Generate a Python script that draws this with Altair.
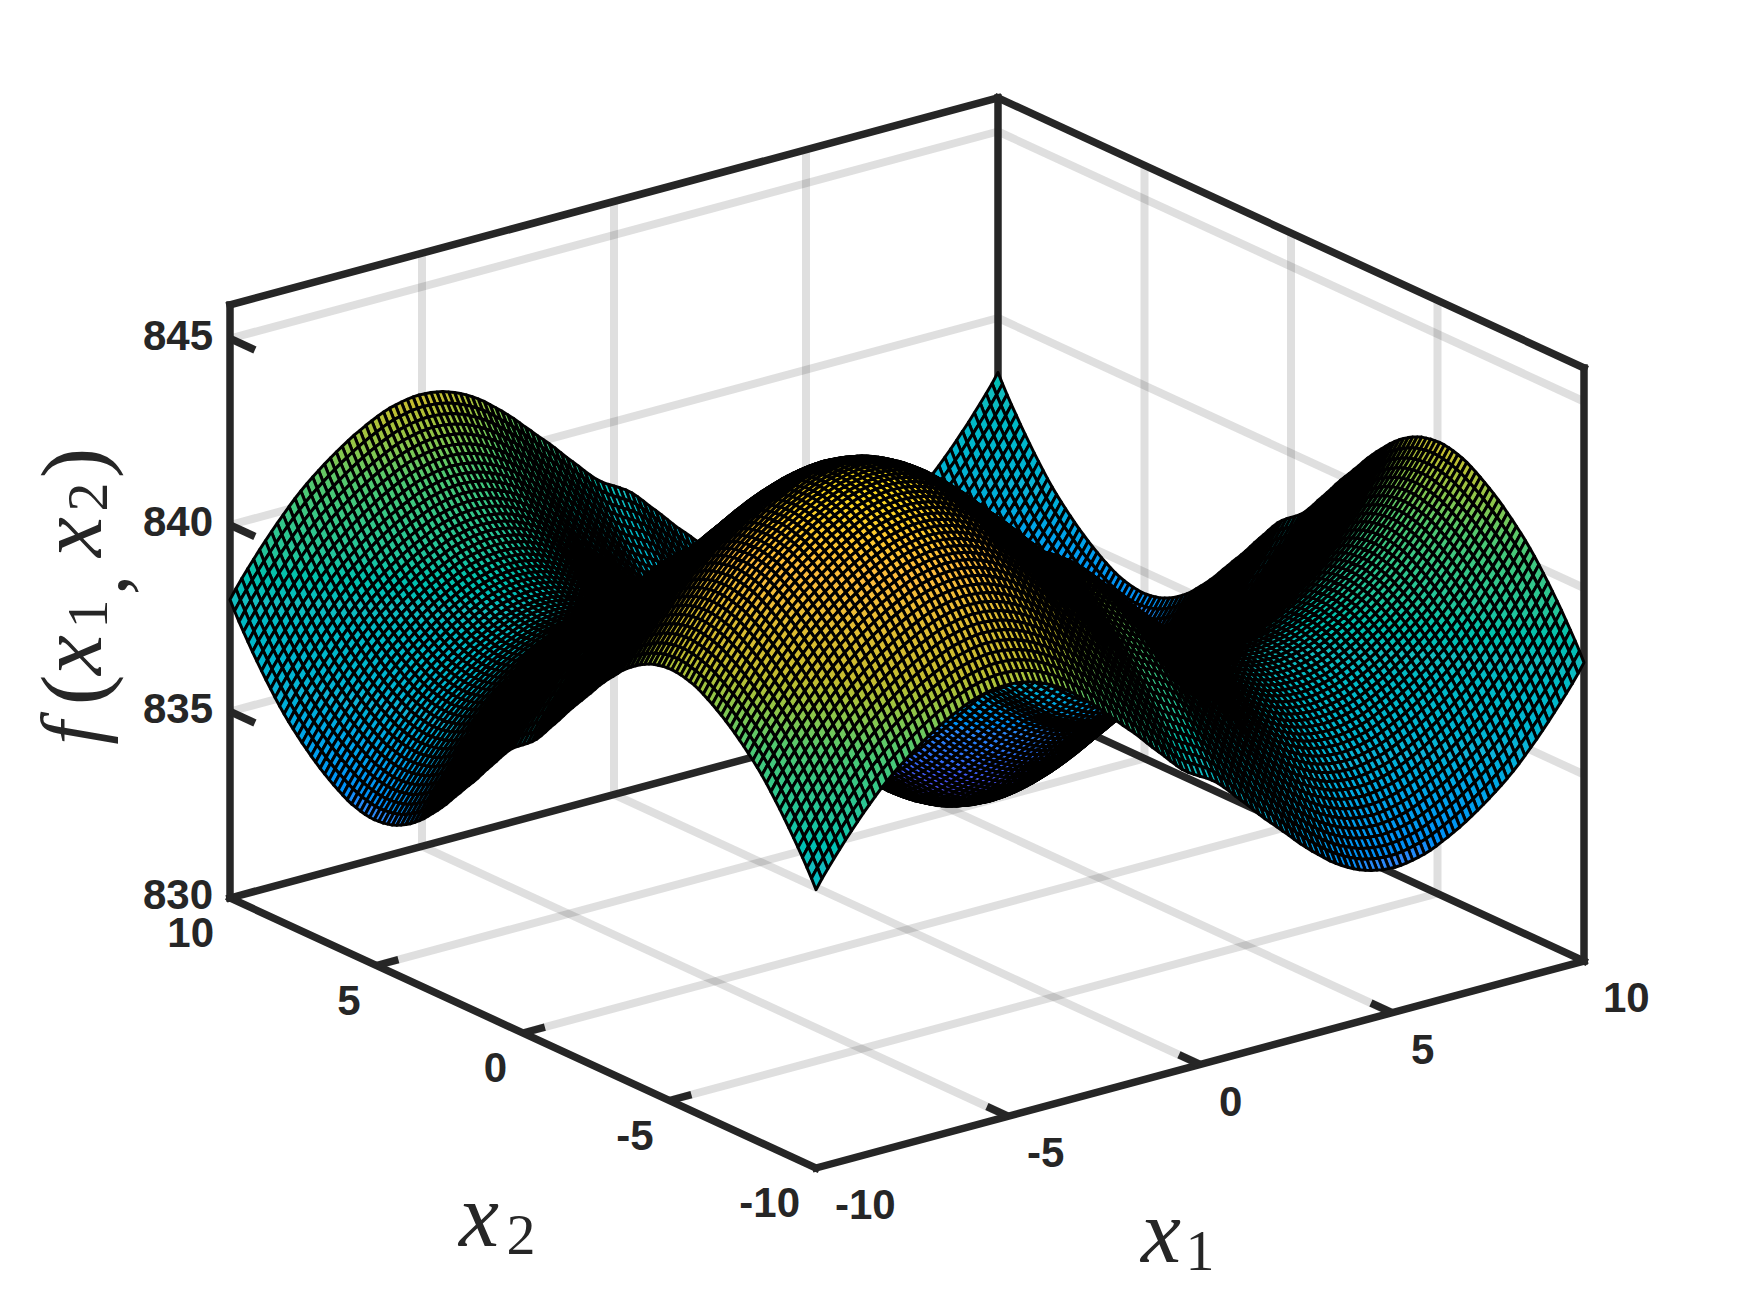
import altair as alt
import pandas as pd

# Height above the base level along one axis,
# for mesh lines from the centre (0) out to 10 on the falling side.
profile_half = [
 0.00,0.09,0.19,0.31,0.46,0.62,0.79,0.95,1.11,1.28,1.45,1.61,1.76,1.91,2.07,2.22,2.38,2.54,2.68,2.82,
 2.95,3.08,3.21,3.32,3.42,3.51,3.59,3.66,3.72,3.77,3.80,3.83,3.84,3.85,3.84,3.82,3.79,3.75,3.71,3.65,
 3.58,3.50,3.42,3.33,3.24,3.14,3.03,2.92,2.80,2.68,2.55,2.42,2.28,2.13,1.97,1.80,1.62,1.44,1.25,1.05,
 0.85,0.64,0.43,0.21,-0.02,-0.27]
base_z = 838.0

xy_ticks = [-10, -5, 0, 5, 10]
z_ticks = [830, 835, 840, 845]
z_top = 845.9

color_z = [830, 832, 834, 836, 838, 839, 840.5, 842, 844, 846]
color_hex = ["#3E26A8", "#4752F4", "#2D87F7", "#12B1D6", "#14BCBE", "#22C49C", "#50C870", "#C4BC30", "#FDBB3D", "#F5E40E"]

ylabel_parts = ["f", "(", "x", "1", ",", "x", "2", ")"]

W, H, M = 1734, 1297, 8
LINE = "#262626"

profile = profile_half[:0:-1] + [-p for p in profile_half]


def cam(x1, x2, z):
    u, v = (x1 + 10) / 20, (x2 + 10) / 20
    return 816 + 768 * u - 586 * v, 1168 - 207 * u - 270 * v - (z - 830) * 37.3


def seg(a, b):
    (x, y), (x_e, y_e) = cam(*a), cam(*b)
    return {"x": x, "y": y, "x_e": x_e, "y_e": y_e}


sx = alt.Scale(domain=[M, M + W], nice=False, zero=False)
sy = alt.Scale(domain=[M + H, M], nice=False, zero=False)
X = alt.X("x:Q", scale=sx, axis=None)
Y = alt.Y("y:Q", scale=sy, axis=None)
ENC = dict(x=X, y=Y, x2="x_e:Q", y2="y_e:Q")

# Grid lines on the floor and on the two back walls
inner = [t for t in xy_ticks if abs(t) < 10]
grid = []
for t in inner:
    grid += [seg((t, -10, 830), (t, 10, 830)), seg((-10, t, 830), (10, t, 830)),
             seg((t, 10, 830), (t, 10, z_top)), seg((10, t, 830), (10, t, z_top))]
for z in z_ticks[1:]:
    grid += [seg((-10, 10, z), (10, 10, z)), seg((10, -10, z), (10, 10, z))]
grid_layer = alt.Chart(pd.DataFrame(grid)).mark_rule(
    color=LINE, opacity=0.15, strokeWidth=8).encode(**ENC)

# Box edges
box = [
    seg((-10, 10, 830), (-10, -10, 830)), seg((-10, -10, 830), (10, -10, 830)),
    seg((-10, 10, 830), (10, 10, 830)), seg((10, 10, 830), (10, -10, 830)),
    seg((-10, 10, 830), (-10, 10, z_top)), seg((10, -10, 830), (10, -10, z_top)),
    seg((10, 10, 830), (10, 10, z_top)),
    seg((-10, 10, z_top), (10, 10, z_top)), seg((10, 10, z_top), (10, -10, z_top)),
]
box_layer = alt.Chart(pd.DataFrame(box)).mark_rule(
    color=LINE, strokeWidth=7.5, strokeCap="square").encode(**ENC)

# Tick marks
ticks = []
for t in inner:
    ticks.append(seg((t, -10, 830), (t, -10 + 0.72, 830)))
    ticks.append(seg((-10, t, 830), (-10 + 0.57, t, 830)))
for z in z_ticks[1:]:
    ticks.append(seg((-10, 10, z), (-10, 10 - 0.85, z)))
tick_layer = alt.Chart(pd.DataFrame(ticks)).mark_rule(
    color=LINE, strokeWidth=7.5).encode(**ENC)

# Surface, drawn back to front
n = len(profile) - 1
features = []


def node(i, j):
    x1 = -10 + 20 * i / n
    x2 = -10 + 20 * j / n
    return cam(x1, x2, base_z + profile[i] + profile[j])


for i in range(n - 1, -1, -1):
    for j in range(n - 1, -1, -1):
        ring = [node(i, j), node(i + 1, j), node(i + 1, j + 1), node(i, j + 1), node(i, j)]
        zm = base_z + (profile[i] + profile[i + 1] + profile[j] + profile[j + 1]) / 2
        features.append({
            "type": "Feature",
            "properties": {"z": round(zm, 2)},
            "geometry": {"type": "Polygon",
                         "coordinates": [[[round(a, 1), round(b, 1)] for a, b in ring]]},
        })

surface_layer = alt.Chart(
    alt.InlineData(values={"type": "FeatureCollection", "features": features},
                   format=alt.DataFormat(property="features", type="json"))
).mark_geoshape(stroke="black", strokeWidth=3.0, strokeJoin="round").encode(
    color=alt.Color("properties.z:Q",
                    scale=alt.Scale(domain=color_z, range=color_hex),
                    legend=None)
).project(type="identity", scale=1, translate=[-M, -M])


def text_layer(rows, **mark):
    return alt.Chart(pd.DataFrame(rows)).mark_text(**mark).encode(x=X, y=Y, text="t:N")


TICKFONT = dict(font="Liberation Sans", fontWeight="bold", fontSize=42, color=LINE, baseline="middle")
zl = [{"x": 213, "y": cam(-10, 10, z)[1] - 2, "t": str(z)} for z in z_ticks]
x1l = [{"x": cam(t, -10, 830)[0] + 19, "y": cam(t, -10, 830)[1] + 38, "t": str(t)} for t in xy_ticks]
x2l = [{"x": cam(-10, t, 830)[0] - 16, "y": cam(-10, t, 830)[1] + 36, "t": str(t)} for t in xy_ticks]
tick_text = (text_layer(zl, align="right", **TICKFONT)
             + text_layer(x1l, align="left", **TICKFONT)
             + text_layer(x2l, align="right", **TICKFONT))

SERIF_I = dict(font="Liberation Serif", fontStyle="italic", color=LINE, align="center", baseline="middle")
SERIF = dict(font="Liberation Serif", color=LINE, align="center", baseline="middle")
title_x = (text_layer([{"x": 1161, "y": 1235, "t": "x"}, {"x": 479, "y": 1219, "t": "x"}], fontSize=90, **SERIF_I)
           + text_layer([{"x": 1200, "y": 1253, "t": "1"}, {"x": 521, "y": 1237, "t": "2"}], fontSize=58, **SERIF))

ypos_x = [75, 76, 74, 90, 102, 74, 90, 76]
ypos_y = [733, 690, 655, 614, 585, 537, 497, 463]
ysize = [84, 92, 90, 58, 80, 90, 58, 92]
yitalic = [True, False, True, False, False, True, False, False]
ylabel = None
for t, px, py, fs, it in zip(ylabel_parts, ypos_x, ypos_y, ysize, yitalic):
    lay = text_layer([{"x": px, "y": py, "t": t}], angle=270, fontSize=fs, **(SERIF_I if it else SERIF))
    ylabel = lay if ylabel is None else ylabel + lay

chart = alt.layer(
    grid_layer, box_layer, tick_layer, surface_layer, tick_text, title_x, ylabel
).properties(width=W, height=H, padding=0, autosize=alt.AutoSizeParams(type="none"), background="white"
).configure_view(stroke=None)

chart.save("out.html", embed_options={"renderer": "svg", "actions": False})
